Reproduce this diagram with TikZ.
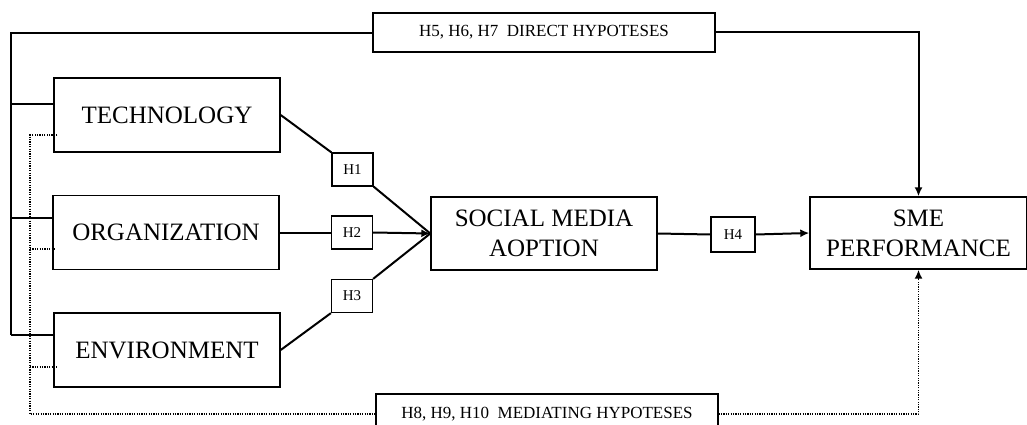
\documentclass[tikz,border=0pt]{standalone}
\usepackage{fontspec}
\setmainfont{Liberation Serif}
\usetikzlibrary{arrows.meta}
\tikzset{
  bigbox/.style={draw, line width=1.4pt, minimum width=226pt, minimum height=74pt, inner sep=0pt, align=center, font=\fontsize{25}{30}\selectfont},
  hbox/.style={draw, line width=1.2pt, minimum width=41pt, minimum height=33pt, inner sep=0pt, font=\fontsize{15}{18}\selectfont},
  wbox/.style={draw, line width=1.2pt, minimum width=342pt, minimum height=39pt, inner sep=0pt, font=\fontsize{17}{20}\selectfont},
  conn/.style={line width=2pt},
  dotc/.style={line width=1.8pt, dash pattern=on 1.2pt off 1.2pt},
  arr/.style={-{Latex[length=9pt,width=8pt]}}
}
\begin{document}
\begin{tikzpicture}[x=1pt, y={(0pt,-1pt)}]
\useasboundingbox (0,0) rectangle (1027,425);
% main boxes
\node[bigbox] (tech) at (167,115) {TECHNOLOGY};
\node[bigbox] (org) at (166,232.5) {ORGANIZATION};
\node[bigbox] (env) at (167,350) {ENVIRONMENT};
\node[bigbox, minimum height=73pt] (sma) at (544,233.5) {SOCIAL MEDIA\\AOPTION};
\node[bigbox, minimum width=217pt, minimum height=72pt] (sme) at (918.5,233) {SME\\PERFORMANCE};
% hypothesis boxes
\node[hbox] (h1) at (352.5,169.5) {H1};
\node[hbox] (h2) at (352,232.5) {H2};
\node[hbox] (h3) at (352,296) {H3};
\node[hbox, minimum width=44pt, minimum height=35pt] (h4) at (733,234.5) {H4};
\node[wbox] (dir) at (544,32.5) {H5, H6, H7\ \ DIRECT HYPOTESES};
\node[wbox, minimum height=40pt] (med) at (547,414) {H8, H9, H10\ \ MEDIATING HYPOTESES};
% left solid bus
\coordinate (ltop) at (11,33);
\coordinate (lb1) at (11,104);
\coordinate (lb2) at (11,218);
\coordinate (lb3) at (11,335);
\draw[conn] (lb3) -- (ltop) -- (ltop -| dir.west);
\draw[conn] (lb1) -- (lb1 -| tech.west);
\draw[conn] (lb2) -- (lb2 -| org.west);
\draw[conn] (lb3) -- (lb3 -| env.west);
\draw[conn, arr] (dir.east) -| (sme.north);
% left dotted bus
\coordinate (dtop) at (30,135);
\coordinate (db2) at (30,249);
\coordinate (db3) at (30,367);
\coordinate (dbot) at (30,414);
\draw[dotc] ([xshift=4pt]dtop -| tech.west) -- (dtop) -- (dbot) -- (med.west);
\draw[dotc] (db2) -- ([xshift=4pt]db2 -| org.west);
\draw[dotc] (db3) -- ([xshift=4pt]db3 -| env.west);
\draw[dotc, arr] (med.east) -| (sme.south);
% hypotheses paths
\draw[conn] (tech.east) -- (h1.north west);
\draw[conn] (h1.south east) -- (sma.west);
\draw[conn] (org.east) -- (h2.west);
\draw[conn, arr] (h2.east) -- (sma.west);
\draw[conn] (env.east) -- (h3.south west);
\draw[conn] (h3.north east) -- (sma.west);
\draw[conn] (sma.east) -- (h4.west);
\draw[conn, arr] (h4.east) -- (sme.west);
\end{tikzpicture}
\end{document}
